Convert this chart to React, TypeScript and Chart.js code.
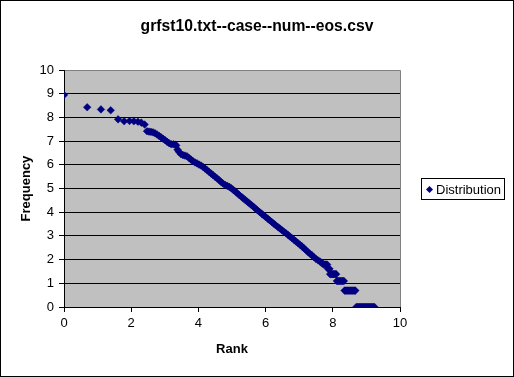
import React, { useEffect, useRef } from "react";
import { Chart, registerables } from "chart.js";

Chart.register(...registerables);

const chartTitle = "grfst10.txt--case--num--eos.csv";
const xTitle = "Rank";
const yTitle = "Frequency";
const seriesName = "Distribution";

// ln(rank) values
const rankLog: number[] = [
  0, 0.69, 1.1, 1.39, 1.61, 1.79, 1.95, 2.08, 2.2, 2.3, 2.4, 2.47, 2.53, 2.59, 2.65,
  2.71, 2.77, 2.83, 2.89, 2.95, 3.01, 3.07, 3.13, 3.19, 3.25, 3.31, 3.34, 3.38, 3.42,
  3.48, 3.54, 3.6, 3.66, 3.72, 3.78, 3.84, 3.9, 3.96, 4.02, 4.08, 4.14, 4.2, 4.26,
  4.32, 4.38, 4.44, 4.5, 4.56, 4.62, 4.68, 4.74, 4.8, 4.86, 4.92, 4.98, 5.04, 5.1,
  5.16, 5.22, 5.28, 5.34, 5.4, 5.46, 5.52, 5.58, 5.64, 5.7, 5.76, 5.82, 5.88, 5.94,
  6.0, 6.06, 6.12, 6.18, 6.24, 6.3, 6.36, 6.42, 6.48, 6.54, 6.6, 6.66, 6.72, 6.78,
  6.84, 6.9, 6.96, 7.02, 7.08, 7.14, 7.2, 7.26, 7.32, 7.38, 7.44, 7.5, 7.56, 7.62,
  7.66, 7.7, 7.74, 7.77, 7.8, 7.83, 7.86, 7.88, 7.9,
  7.92, 7.95, 7.98, 8.01, 8.04, 8.07, 8.1,
  8.12, 8.15, 8.18, 8.21, 8.24, 8.27, 8.3, 8.33,
  8.35, 8.38, 8.41, 8.44, 8.47, 8.5, 8.53, 8.56, 8.59, 8.62, 8.65, 8.67,
  8.7, 8.73, 8.76, 8.79, 8.82, 8.85, 8.88, 8.91, 8.94, 8.97, 9.0, 9.03, 9.06, 9.09,
  9.12, 9.15, 9.18, 9.21, 9.24,
];

// ln(frequency) values
const freqLog: number[] = [
  8.95, 8.43, 8.34, 8.3, 7.92, 7.84, 7.85, 7.84, 7.82, 7.78, 7.7, 7.42, 7.4, 7.39, 7.37,
  7.33, 7.28, 7.22, 7.16, 7.1, 7.04, 6.97, 6.91, 6.87, 6.87, 6.85, 6.82, 6.64, 6.55,
  6.45, 6.41, 6.39, 6.36, 6.29, 6.22, 6.15, 6.1, 6.06, 6.01, 5.97, 5.91, 5.84, 5.77,
  5.7, 5.63, 5.56, 5.49, 5.42, 5.35, 5.27, 5.2, 5.15, 5.11, 5.07, 5.01, 4.94, 4.87,
  4.8, 4.72, 4.65, 4.58, 4.51, 4.44, 4.37, 4.3, 4.23, 4.15, 4.08, 4.01, 3.94, 3.87,
  3.8, 3.73, 3.66, 3.59, 3.52, 3.45, 3.38, 3.32, 3.25, 3.18, 3.12, 3.05, 2.98, 2.91,
  2.84, 2.77, 2.7, 2.63, 2.56, 2.48, 2.4, 2.32, 2.25, 2.18, 2.1, 2.03, 1.97, 1.92,
  1.87, 1.83, 1.79, 1.79, 1.79, 1.79, 1.61, 1.61, 1.61,
  1.386, 1.386, 1.386, 1.386, 1.386, 1.386, 1.386,
  1.099, 1.099, 1.099, 1.099, 1.099, 1.099, 1.099, 1.099,
  0.693, 0.693, 0.693, 0.693, 0.693, 0.693, 0.693, 0.693, 0.693, 0.693, 0.693, 0.693,
  0, 0, 0, 0, 0, 0, 0, 0, 0, 0, 0, 0, 0, 0,
  0, 0, 0, 0, 0,
];

const FONT = "'Liberation Sans', Arial, sans-serif";
const MARKER = "#000080";

const framePlugin = {
  id: "frame",
  beforeDraw(chart: any) {
    const { ctx, chartArea } = chart;
    ctx.save();
    ctx.fillStyle = "#ffffff";
    ctx.fillRect(0, 0, chart.width, chart.height);
    ctx.fillStyle = "#c0c0c0";
    ctx.fillRect(chartArea.left, chartArea.top, chartArea.right - chartArea.left, chartArea.bottom - chartArea.top);
    ctx.restore();
  },
  beforeDatasetsDraw(chart: any) {
    const { ctx, chartArea } = chart;
    ctx.save();
    ctx.strokeStyle = "#808080";
    ctx.lineWidth = 1;
    ctx.beginPath();
    ctx.moveTo(chartArea.left + 1, Math.round(chartArea.top) + 0.5);
    ctx.lineTo(Math.round(chartArea.right) + 0.5, Math.round(chartArea.top) + 0.5);
    ctx.lineTo(Math.round(chartArea.right) + 0.5, chartArea.bottom);
    ctx.stroke();
    ctx.restore();
  },
  afterDraw(chart: any) {
    const { ctx } = chart;
    ctx.save();
    ctx.strokeStyle = "#000000";
    ctx.lineWidth = 1;
    ctx.strokeRect(0.5, 0.5, chart.width - 1, chart.height - 1);
    // legend
    ctx.strokeRect(421.5, 178.5, 83, 21);
    ctx.fillStyle = MARKER;
    ctx.beginPath();
    const cx = 429.5, cy = 189.5, r = 3.5;
    ctx.moveTo(cx, cy - r);
    ctx.lineTo(cx + r, cy);
    ctx.lineTo(cx, cy + r);
    ctx.lineTo(cx - r, cy);
    ctx.closePath();
    ctx.fill();
    ctx.fillStyle = "#000000";
    ctx.font = `13px ${FONT}`;
    ctx.textBaseline = "middle";
    ctx.textAlign = "left";
    ctx.fillText(seriesName, 436, 190);
    ctx.restore();
  },
};

export default function App() {
  const ref = useRef<HTMLCanvasElement>(null);
  useEffect(() => {
    if (!ref.current) return;
    const points = rankLog.map((x, i) => ({ x, y: freqLog[i] }));
    const chart = new Chart(ref.current, {
      type: "scatter",
      data: {
        datasets: [
          {
            label: seriesName,
            data: points,
            pointStyle: "rectRot",
            pointRadius: 3.8,
            pointBorderWidth: 0.5,
            backgroundColor: MARKER,
            borderColor: MARKER,
          },
        ],
      },
      options: {
        animation: false,
        responsive: false,
        devicePixelRatio: 1,
        layout: { padding: 0 },
        plugins: {
          legend: { display: false },
          tooltip: { enabled: false },
          title: {
            display: true,
            text: chartTitle,
            color: "#000",
            font: { family: FONT, size: 15.7, weight: "bold", lineHeight: 1.2 },
            padding: { top: 17.3, bottom: 33.9 },
          },
        },
        scales: {
          x: {
            type: "linear",
            min: 0,
            max: 10,
            afterFit: (s: any) => {
              s.height = 70;
            },
            ticks: { stepSize: 2, color: "#000", font: { family: FONT, size: 13 }, padding: 4 },
            grid: { drawOnChartArea: false, color: "#000", tickLength: 5, tickColor: "#000" },
            border: { color: "#000" },
            title: {
              display: true,
              text: xTitle,
              color: "#000",
              font: { family: FONT, size: 13, weight: "bold", lineHeight: 1.2 },
              padding: { top: 0, bottom: 20 },
            },
          },
          y: {
            type: "linear",
            min: 0,
            max: 10,
            afterFit: (s: any) => {
              s.width = 64;
            },
            ticks: { stepSize: 1, color: "#000", font: { family: FONT, size: 13 }, padding: 5 },
            grid: { color: "#000", tickLength: 5, tickColor: "#000" },
            border: { color: "#000" },
            title: {
              display: true,
              text: yTitle,
              color: "#000",
              font: { family: FONT, size: 13, weight: "bold", lineHeight: 1.2 },
              padding: { top: 19, bottom: 0 },
            },
          },
          legendSpace: {
            type: "linear",
            position: "right",
            min: 0,
            max: 1,
            afterFit: (s: any) => {
              s.width = 114;
            },
            ticks: { display: false },
            grid: { display: false, drawTicks: false },
            border: { display: false },
            title: { display: false },
          },
        },
      },
      plugins: [framePlugin],
    });
    return () => chart.destroy();
  }, []);
  return (
    <div style={{ position: "absolute", left: 0, top: 0, width: 514, height: 377 }}>
      <canvas ref={ref} width={514} height={377} />
    </div>
  );
}
